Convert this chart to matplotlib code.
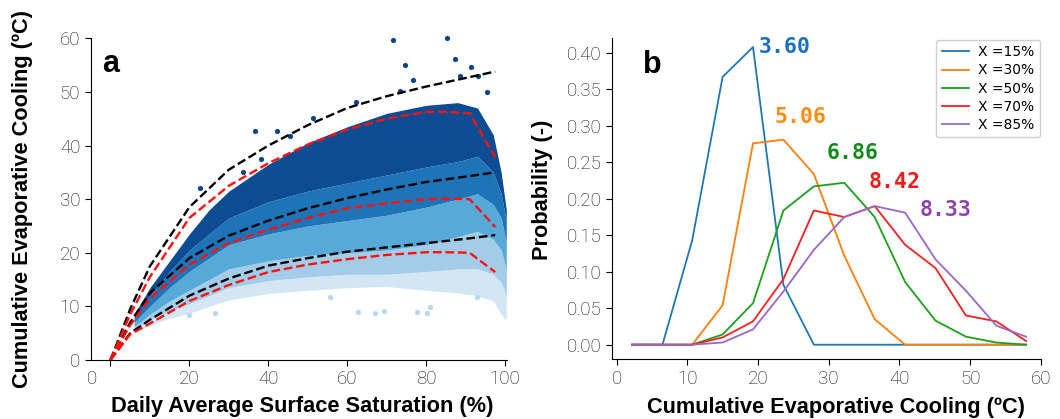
import matplotlib
matplotlib.use("Agg")
import matplotlib.pyplot as plt
import matplotlib.transforms as mtransforms

plt.rcParams['font.family'] = ['Liberation Sans', 'DejaVu Sans']

# ---- panel a: cloud of daily points (read as colour bands) ----
cloud_x = [6, 10, 15, 20, 25, 30, 40, 50, 60, 70, 80, 88, 93, 97, 99, 100.3]
cloud_bottom = [5.0, 6.5, 7.8, 8.7, 10.0, 11.2, 12.4, 13.0, 13.5, 13.7, 13.0, 12.5, 12.0, 11.0, 8.5, 7.5]
cloud_b1 = [5.6, 7.5, 9.2, 10.5, 12.0, 13.5, 14.8, 15.5, 16.0, 16.0, 16.5, 17.0, 17.0, 16.0, 14.5, 12.0]
cloud_b2 = [6.2, 8.5, 11.0, 13.0, 15.0, 17.0, 18.5, 19.5, 20.0, 20.5, 21.5, 23.0, 24.0, 22.5, 20.5, 17.0]
cloud_b3 = [7.0, 10.0, 13.5, 16.5, 19.0, 21.5, 23.5, 25.0, 26.0, 27.0, 28.5, 30.0, 31.0, 29.0, 26.5, 22.0]
cloud_b4 = [7.6, 12.0, 16.5, 20.5, 23.5, 26.5, 29.5, 31.5, 33.0, 34.5, 36.0, 37.0, 38.0, 35.0, 31.0, 26.0]
cloud_top = [8.5, 13.5, 18.5, 23.5, 28.0, 31.5, 36.5, 40.5, 43.5, 46.0, 47.5, 48.0, 47.0, 42.0, 35.0, 28.0]

# scattered points outside the dense cloud
high_x = [71.7, 85.4, 74.7, 87.2, 91.4, 76.6, 36.7, 42.2, 22.7, 62.2, 51.4, 73.4, 88.6, 93.2, 95.4, 45.5, 38.1, 33.7]
high_y = [59.6, 60.0, 55.0, 56.2, 54.6, 52.2, 42.7, 42.7, 32.0, 48.2, 45.1, 50.2, 52.9, 52.9, 49.9, 41.7, 37.4, 35.1]
low_x = [62.8, 67.1, 69.2, 80.2, 77.6, 26.5, 19.8, 55.7, 81.0, 92.8]
low_y = [9.0, 8.7, 9.1, 8.7, 9.0, 8.8, 8.4, 11.7, 9.9, 11.8]

# envelope curves
env_x = [0, 5, 10, 20, 30, 40, 50, 60, 70, 80, 90, 97.5]
black_hi = [0, 9.5, 17.5, 28.5, 35.5, 40.0, 43.8, 47.0, 49.2, 51.0, 52.6, 53.8]
black_mid = [0, 7.0, 12.5, 19.0, 23.2, 26.0, 28.3, 30.2, 31.8, 33.2, 34.2, 35.0]
black_lo = [0, 5.0, 7.5, 12.0, 15.2, 17.6, 19.0, 20.2, 21.0, 21.8, 22.6, 23.3]

red_x = [0, 5, 10, 20, 30, 40, 50, 60, 70, 80, 85, 91, 97.5]
red_hi = [0, 8.5, 15.5, 26.5, 32.5, 36.7, 40.2, 43.0, 45.0, 46.3, 46.3, 46.0, 37.8]
red_mid = [0, 6.5, 11.5, 17.8, 21.8, 24.3, 26.5, 28.3, 29.2, 30.0, 30.1, 30.0, 24.8]
red_lo = [0, 4.8, 6.8, 11.0, 14.0, 16.4, 17.8, 18.8, 19.6, 20.1, 20.1, 20.0, 16.4]

# ---- panel b: distributions ----
bins = [2.2, 6.5, 10.7, 15.0, 19.3, 23.6, 27.9, 32.2, 36.5, 40.8, 45.1, 49.4, 53.7, 57.9]
p15 = [0, 0, 0.143, 0.367, 0.408, 0.082, 0, 0, 0, 0, 0, 0, 0, 0]
p30 = [0, 0, 0, 0.054, 0.276, 0.281, 0.234, 0.122, 0.035, 0, 0, 0, 0, 0]
p50 = [0, 0, 0, 0.014, 0.057, 0.184, 0.217, 0.222, 0.175, 0.086, 0.033, 0.011, 0.003, 0]
p70 = [0, 0, 0, 0.010, 0.032, 0.090, 0.184, 0.175, 0.190, 0.137, 0.105, 0.040, 0.032, 0.005]
p85 = [0, 0, 0, 0.003, 0.021, 0.073, 0.130, 0.175, 0.190, 0.181, 0.117, 0.074, 0.026, 0.011]
series_labels = ['X =15%', 'X =30%', 'X =50%', 'X =70%', 'X =85%']
note_text = ['3.60', '5.06', '6.86', '8.42', '8.33']
note_x = [20.1, 22.4, 29.7, 35.6, 42.9]
note_y = [0.408, 0.312, 0.263, 0.223, 0.185]

line_colors = ['#1f77b4', '#ff7f0e', '#1ca01c', '#f42020', '#9a67c6']
note_colors = ['#1a6fc4', '#ff8c10', '#14891c', '#ee1c1c', '#8e44ad']

fig = plt.figure(figsize=(10.6, 4.19), dpi=100)
ax1 = fig.add_axes([0.0856, 0.1408, 0.3924, 0.7678])
ax2 = fig.add_axes([0.5776, 0.1425, 0.4044, 0.7661])

# panel a
band_colors = ['#d4e6f4', '#a3cce8', '#57a9d8', '#1f74b8', '#0c4c92']
bounds = [cloud_bottom, cloud_b1, cloud_b2, cloud_b3, cloud_b4, cloud_top]
for i, c in enumerate(band_colors):
    ax1.fill_between(cloud_x, bounds[i], bounds[i + 1], color=c, linewidth=0)
ax1.scatter(high_x, high_y, s=14, color='#0a4583', linewidths=0, clip_on=False)
ax1.scatter(low_x, low_y, s=14, color='#b9d7ee', linewidths=0)

for yy in [black_hi, black_mid, black_lo]:
    ax1.plot(env_x, yy, '--', color='black', lw=1.7)
for yy in [red_hi, red_mid, red_lo]:
    ax1.plot(red_x, yy, '--', color='#ff1010', lw=1.7)

ax1.set_xlim(-5, 100.4)
ax1.set_ylim(0, 60)
ax1.set_xticks([0, 20, 40, 60, 80, 100])
ax1.set_yticks([0, 10, 20, 30, 40, 50, 60])
ax1.text(-2.1, 53.7, 'a', fontsize=22, fontweight='bold', va='baseline')
ax1.set_xlabel('Daily Average Surface Saturation (%)', fontsize=15.7, fontweight='bold')
ax1.set_ylabel('Cumulative Evaporative Cooling (ºC)', fontsize=15.7, fontweight='bold')
ax1.xaxis.set_label_coords(0.509, -0.112)
ax1.yaxis.set_label_coords(-0.139, 0.5)

# panel b
series = [p15, p30, p50, p70, p85]
for s, c, lab in zip(series, line_colors, series_labels):
    ax2.plot(bins, s, color=c, lw=1.3, label=lab)
for t, x, y, c in zip(note_text, note_x, note_y, note_colors):
    ax2.text(x, y, t, color=c, fontsize=15.5, fontweight='bold',
             family='DejaVu Sans Mono', ha='left', va='center')

ax2.set_xlim(-0.6, 60)
ax2.set_ylim(-0.02, 0.42)
ax2.set_xticks([0, 10, 20, 30, 40, 50, 60])
ax2.set_yticks([0.0, 0.05, 0.10, 0.15, 0.20, 0.25, 0.30, 0.35, 0.40])
ax2.set_yticklabels(['%.2f' % v for v in ax2.get_yticks()])
ax2.text(3.8, 0.373, 'b', fontsize=22, fontweight='bold', va='baseline')
ax2.set_xlabel('Cumulative Evaporative Cooling (ºC)', fontsize=15.7, fontweight='bold')
ax2.set_ylabel('Probability (-)', fontsize=15.7, fontweight='bold')
ax2.xaxis.set_label_coords(0.523, -0.117)
ax2.yaxis.set_label_coords(-0.138, 0.527)

leg = ax2.legend(loc='upper right', bbox_to_anchor=(1.0, 1.0), borderaxespad=0.1,
                 prop={'family': 'DejaVu Sans', 'size': 10}, labelspacing=0.3,
                 handlelength=2.0, handletextpad=0.6, fancybox=True, framealpha=1)
leg.get_frame().set_edgecolor('#d0d0d0')

for ax in (ax1, ax2):
    ax.spines['top'].set_visible(False)
    ax.spines['right'].set_visible(False)
    ax.tick_params(labelsize=13.5, length=4, width=0.8, colors='black')
    for lab in ax.get_xticklabels() + ax.get_yticklabels():
        lab.set_color('#111111')
        lab.set_family(['Roboto', 'DejaVu Sans'])
        lab.set_fontweight('light')

# the "0" label sits left of its tick in the original
lbl0 = ax1.xaxis.get_major_ticks()[0].label1
lbl0.set_transform(lbl0.get_transform() + mtransforms.ScaledTranslation(-0.18, 0, fig.dpi_scale_trans))

fig.savefig('out.png', dpi=100)
